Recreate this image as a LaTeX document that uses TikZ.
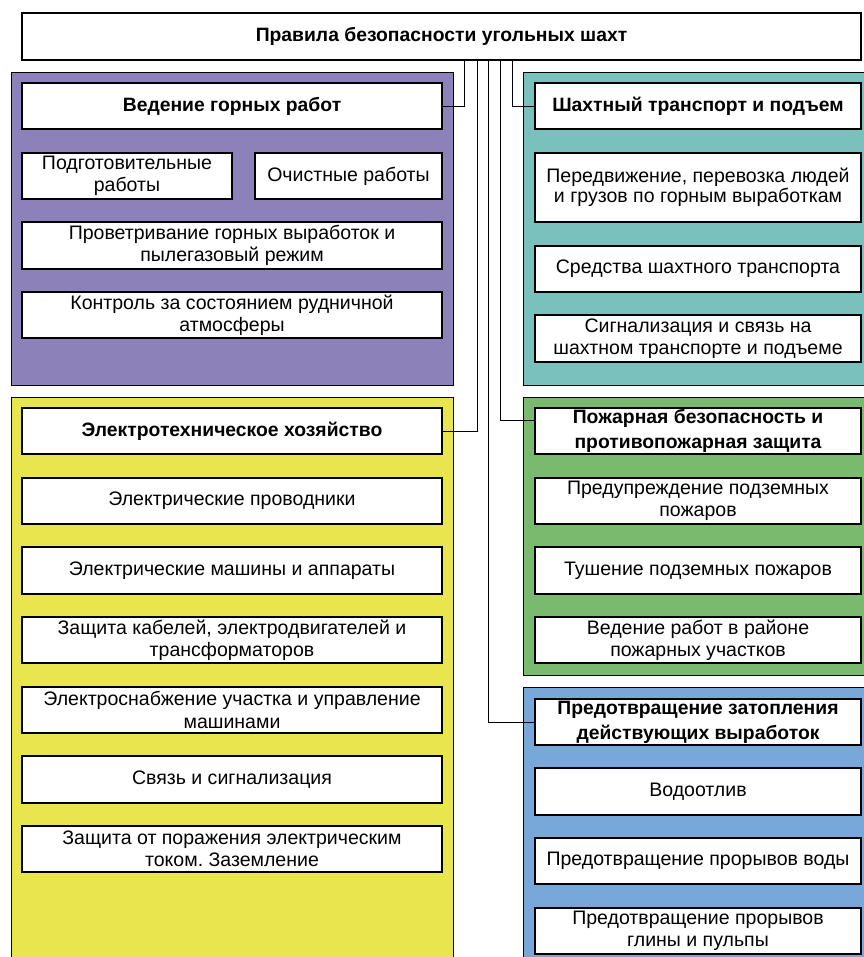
\documentclass[tikz,border=0pt]{standalone}
\usepackage{fontspec}
\setmainfont{Liberation Sans}
\frenchspacing
\definecolor{cpurple}{RGB}{141,129,186}
\definecolor{cteal}{RGB}{122,192,189}
\definecolor{cyellow}{RGB}{233,230,77}
\definecolor{cgreen}{RGB}{122,186,110}
\definecolor{cblue}{RGB}{119,168,217}
\tikzset{
  boxst/.style={draw=black, line width=1.2bp, fill=white, inner sep=0pt, outer sep=0pt, align=center,
    font=\fontsize{19.6}{22.5}\selectfont},
  tightst/.style={boxst, font=\fontsize{19.6}{20.5}\selectfont},
  titlest/.style={boxst, font=\fontsize{19.4}{25}\selectfont\bfseries},
  panelst/.style={draw=black, line width=1bp},
  conn/.style={draw=black, line width=0.9bp}
}
\newcommand\mkbox[7]{%
  \node[#1, minimum width={(#5-#3)*1bp}, minimum height={(#6-#4)*1bp}] (#2) at ({(#3+#5)/2},{(#4+#6)/2}) {#7};}
\begin{document}
\begin{tikzpicture}[x=1bp,y=-1bp]
\useasboundingbox (0,0) rectangle (864,957);
% panels
\path[panelst, fill=cpurple] (11,72) rectangle (453,385);
\path[panelst, fill=cteal] (523,72) rectangle (872,385);
\path[panelst, fill=cyellow] (11,397) rectangle (453,965);
\path[panelst, fill=cgreen] (523,397) rectangle (872,675);
\path[panelst, fill=cblue] (523,687) rectangle (872,965);
% top
\mkbox{titlest}{top}{22}{13}{861}{60}{Правила безопасности угольных шахт}
% purple
\mkbox{titlest}{ved}{22}{83}{442}{129}{Ведение горных работ}
\mkbox{boxst}{podg}{22}{153}{232}{199}{Подготовительные\\работы}
\mkbox{boxst}{ochi}{255}{153}{442}{199}{Очистные работы}
\mkbox{boxst}{prov}{22}{222}{442}{269}{Проветривание горных выработок и\\пылегазовый режим}
\mkbox{boxst}{kont}{22}{292}{442}{338}{Контроль за состоянием рудничной\\атмосферы}
% teal
\mkbox{titlest}{sht}{535}{83}{861}{129}{Шахтный транспорт и подъем}
\mkbox{tightst}{pered}{535}{153}{861}{222}{Передвижение, перевозка людей\\и грузов по горным выработкам}
\mkbox{boxst}{sred}{535}{246}{861}{292}{Средства шахтного транспорта}
\mkbox{boxst}{sign}{535}{315}{861}{362}{Сигнализация и связь на\\шахтном транспорте и подъеме}
% yellow
\mkbox{titlest}{elt}{22}{408}{442}{454}{Электротехническое хозяйство}
\mkbox{boxst}{e1}{22}{478}{442}{524}{Электрические проводники}
\mkbox{boxst}{e2}{22}{547}{442}{594}{Электрические машины и аппараты}
\mkbox{boxst}{e3}{22}{617}{442}{663}{Защита кабелей, электродвигателей и\\трансформаторов}
\mkbox{boxst}{e4}{22}{687}{442}{733}{Электроснабжение участка и управление\\машинами}
\mkbox{boxst}{e5}{22}{756}{442}{803}{Связь и сигнализация}
\mkbox{boxst}{e6}{22}{826}{442}{872}{Защита от поражения электрическим\\током. Заземление}
% green
\mkbox{titlest}{pozh}{535}{408}{861}{454}{Пожарная безопасность и\\противопожарная защита}
\mkbox{boxst}{p1}{535}{478}{861}{524}{Предупреждение подземных\\пожаров}
\mkbox{boxst}{p2}{535}{547}{861}{594}{Тушение подземных пожаров}
\mkbox{boxst}{p3}{535}{617}{861}{663}{Ведение работ в районе\\пожарных участков}
% blue
\mkbox{titlest}{zat}{535}{699}{861}{745}{Предотвращение затопления\\действующих выработок}
\mkbox{boxst}{b1}{535}{768}{861}{815}{Водоотлив}
\mkbox{boxst}{b2}{535}{838}{861}{884}{Предотвращение прорывов воды}
\mkbox{boxst}{b3}{535}{908}{861}{954}{Предотвращение прорывов\\глины и пульпы}
% connectors
\coordinate (c1) at (464,60);
\coordinate (c2) at (477,60);
\coordinate (c3) at (488,60);
\coordinate (c4) at (500,60);
\coordinate (c5) at (512,60);
\draw[conn] (c1) |- (ved.east);
\draw[conn] (c5) |- (sht.west);
\draw[conn] (c2) |- (elt.east);
\draw[conn] (c4) |- ([yshift=11bp]pozh.west);
\draw[conn] (c3) |- (zat.west);
\end{tikzpicture}
\end{document}
